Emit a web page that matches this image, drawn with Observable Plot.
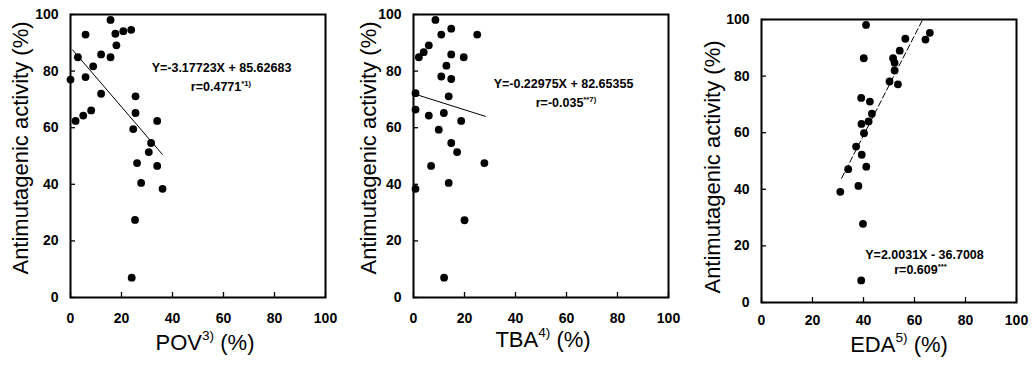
<!DOCTYPE html>
<html><head><meta charset="utf-8">
<script src="https://cdn.jsdelivr.net/npm/d3@7"></script>
<script src="https://cdn.jsdelivr.net/npm/@observablehq/plot@0.6"></script>
<style>
html,body{margin:0;padding:0;background:#fff;}
#chart{position:relative;width:1034px;height:371px;overflow:hidden;}
#chart svg{position:absolute;top:0;}
g[aria-label="equation"] text{letter-spacing:1.3px;}
</style></head><body><div id="chart"></div>
<script>
// ---- data ----
const povX = [0, 2.0, 2.9, 5.0, 5.9, 5.9, 8.1, 8.9, 12.0, 12.0, 15.7, 15.7, 17.6, 18.0, 20.7, 23.8, 24.6, 25.5, 25.5, 25.3, 26.1, 24.0, 27.7, 30.7, 31.6, 34.0, 34.0, 36.1];
const povY = [77.0, 62.4, 84.9, 64.3, 92.9, 77.9, 66.1, 81.7, 85.9, 72.0, 98.1, 84.9, 93.2, 89.1, 94.1, 94.6, 59.5, 65.2, 71.1, 27.4, 47.5, 7.0, 40.5, 51.4, 54.6, 62.4, 46.5, 38.4];
const tbaX = [8.6, 10.9, 14.8, 25.0, 6.0, 4.0, 2.1, 14.8, 19.7, 12.9, 10.9, 14.8, 0.8, 13.8, 0.8, 6.0, 11.9, 18.7, 9.9, 14.8, 17.1, 6.9, 27.8, 13.8, 0.8, 20.0, 12.0];
const tbaY = [98.1, 92.9, 95.0, 92.9, 89.1, 86.7, 84.9, 85.9, 84.9, 81.9, 78.1, 77.2, 72.2, 71.1, 66.4, 64.3, 65.2, 62.4, 59.3, 54.6, 51.4, 46.5, 47.5, 40.5, 38.4, 27.3, 7.0];
const edaX = [41.0, 40.1, 66.0, 64.3, 56.4, 54.2, 51.6, 52.2, 52.2, 50.2, 53.5, 39.1, 42.5, 43.3, 42.0, 39.2, 40.2, 37.1, 39.3, 34.0, 41.1, 38.0, 30.9, 39.8, 39.1];
const edaY = [98.1, 86.3, 95.3, 92.9, 93.2, 89.0, 86.3, 84.7, 82.0, 78.1, 77.1, 72.3, 71.0, 66.7, 64.0, 63.1, 59.8, 55.1, 52.2, 47.1, 48.0, 41.2, 39.1, 27.8, 7.8];
// fitted lines as drawn (end points)
const povFitX = [0.8, 36.0], povFitY = [87.5, 50.6];
const tbaFitX = [0.8, 28.2], tbaFitY = [71.8, 64.0];
const edaFitX = [31.4, 63.0], edaFitY = [43.9, 99.6];
// ticks and texts
const xTicks = [0, 20, 40, 60, 80, 100];
const yTicks = [0, 20, 40, 60, 80, 100];
const yTitle = "Antimutagenic activity (%)";
const xNames = ["POV", "TBA", "EDA"];
const xNotes = ["3)", "4)", "5)"];
const equations = ["Y=-3.17723X + 85.62683", "Y=-0.22975X + 82.65355", "Y=2.0031X - 36.7008"];
const rValues = ["r=0.4771", "r=-0.035", "r=0.609"];
const rNotes = ["*1)", "**7)", "***"];

const FONT = "Arial, 'Liberation Sans', Helvetica, sans-serif";

function supify(svg) {
  svg.querySelectorAll("text").forEach(t => {
    const s = t.textContent;
    if (!s.includes("^")) return;
    const fs = parseFloat(t.getAttribute("font-size") || getComputedStyle(t).fontSize) || 12;
    const parts = s.split("^");
    t.textContent = "";
    parts.forEach((p, i) => {
      if (!p) return;
      const ts = document.createElementNS("http://www.w3.org/2000/svg", "tspan");
      ts.textContent = p;
      if (i % 2 === 1) {
        ts.setAttribute("dy", -fs * 0.42);
        ts.setAttribute("font-size", fs * 0.62);
      } else if (i > 0) {
        ts.setAttribute("dy", fs * 0.42);
      }
      t.appendChild(ts);
    });
  });
}

function panel(i, xs, ys, fx, fy, dashed, L) {
  const pts = xs.map((x, k) => ({x, y: ys[k]}));
  const fit = fx.map((x, k) => ({x, y: fy[k]}));
  const svg = Plot.plot({
    width: L.width, height: 371,
    marginLeft: L.mL, marginRight: L.mR, marginTop: L.mT, marginBottom: L.mB,
    style: {fontFamily: FONT, background: "white", color: "black", overflow: "visible"},
    x: {domain: [0, 100]},
    y: {domain: [0, 100]},
    marks: [
      Plot.axisX({ticks: xTicks, tickSize: -5, tickPadding: L.xPad, fontSize: 14, fontWeight: "bold", label: null, strokeWidth: 1.3}),
      Plot.axisY({ticks: yTicks, tickSize: -5, tickPadding: 17, fontSize: 14, fontWeight: "bold", label: null, strokeWidth: 1.3}),
      Plot.line(fit, {x: "x", y: "y", stroke: "black", strokeWidth: 1, ...(dashed ? {strokeDasharray: "6,3"} : {})}),
      Plot.dot(pts, {x: "x", y: "y", r: 3.9, fill: "black", stroke: "none"}),
      Plot.frame({stroke: "black", strokeWidth: 2}),
      Plot.text([yTitle], {text: d => d, frameAnchor: "left", textAnchor: "middle", rotate: -90, dx: L.ytDx, dy: L.ytDy, fontSize: 22}),
      Plot.text([`${xNames[i]}^${xNotes[i]}^ (%)`], {text: d => d, frameAnchor: "bottom", textAnchor: "middle", dx: L.xtDx, dy: L.xtDy, fontSize: 22}),
      Plot.text([equations[i]], {text: d => d, frameAnchor: "top", textAnchor: "middle", dx: L.eqDx, dy: L.eqDy, fontSize: 12.5, fontWeight: "bold", ariaLabel: "equation"}),
      Plot.text([`${rValues[i]}^${rNotes[i]}^`], {text: d => d, frameAnchor: "top", textAnchor: "middle", dx: L.rDx, dy: L.rDy, fontSize: 12.5, fontWeight: "bold", ariaLabel: "equation"})
    ]
  });
  svg.style.left = L.left + "px";
  document.getElementById("chart").appendChild(svg);
  supify(svg);
}

panel(0, povX, povY, povFitX, povFitY, false,
  {left: 0, width: 345, mL: 70, mR: 20, mT: 14, mB: 74, xPad: 21, ytDx: -50, ytDy: -8, xtDx: 7, xtDy: 52, eqDx: 23.5, eqDy: 49, rDx: 23, rDy: 68});
panel(1, tbaX, tbaY, tbaFitX, tbaFitY, false,
  {left: 345, width: 345, mL: 68, mR: 22, mT: 14, mB: 74, xPad: 21, ytDx: -45, ytDy: -8, xtDx: 2, xtDy: 49, eqDx: 22.5, eqDy: 65, rDx: 25, rDy: 84});
panel(2, edaX, edaY, edaFitX, edaFitY, true,
  {left: 690, width: 344, mL: 71, mR: 18, mT: 19, mB: 69, xPad: 18, ytDx: -49, ytDy: 6, xtDx: 10, xtDy: 49, eqDx: 35.5, eqDy: 231, rDx: 31.5, rDy: 246});
</script></body></html>
